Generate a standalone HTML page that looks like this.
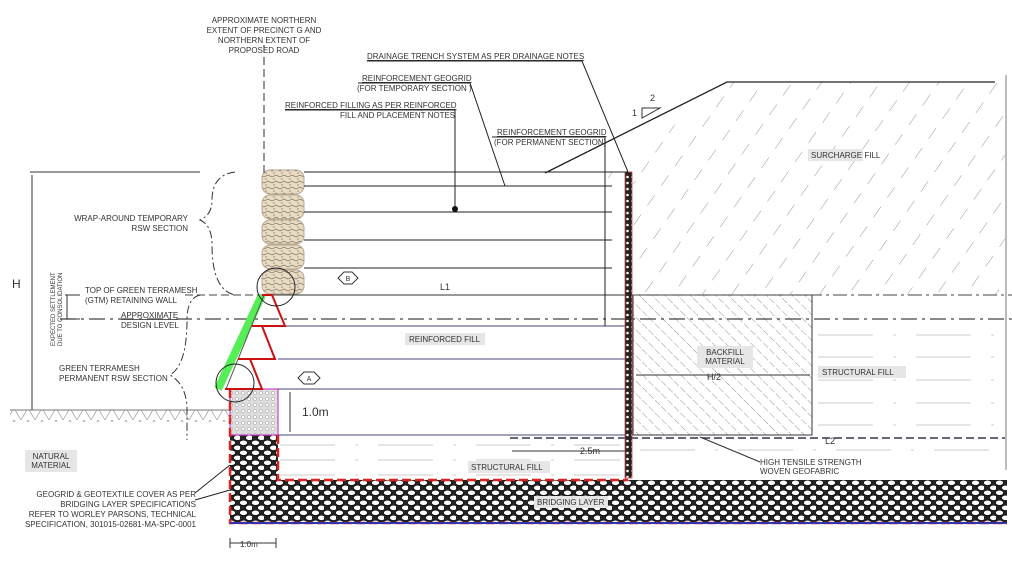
<!DOCTYPE html>
<html><head><style>body{margin:0;background:#fff}svg{display:block}text{font-family:"Liberation Sans",sans-serif;fill:#333}</style></head><body>
<svg width="1012" height="566" viewBox="0 0 1012 566" xmlns="http://www.w3.org/2000/svg">
<defs>
<pattern id="h1" width="24" height="24" patternUnits="userSpaceOnUse" patternTransform="rotate(35)"><line x1="0" y1="0" x2="0" y2="13" stroke="#888" stroke-width="0.9"/></pattern>
<pattern id="h2" width="9" height="9" patternUnits="userSpaceOnUse" patternTransform="rotate(-45)"><line x1="0" y1="0" x2="0" y2="9" stroke="#666" stroke-width="0.7" stroke-dasharray="6 2"/></pattern>
<pattern id="rock" width="12" height="10" patternUnits="userSpaceOnUse"><rect width="12" height="10" fill="#222"/><ellipse cx="3.5" cy="2.8" rx="4" ry="2.6" fill="#fff" stroke="#000" stroke-width="0.6"/><ellipse cx="9.5" cy="7.8" rx="4" ry="2.6" fill="#fff" stroke="#000" stroke-width="0.6"/></pattern>
<pattern id="pk" width="6" height="6" patternUnits="userSpaceOnUse"><rect width="6" height="6" fill="#ddd"/><circle cx="3" cy="3" r="1.6" fill="#fff" stroke="#999" stroke-width="0.5"/></pattern>
<pattern id="bag" width="8" height="6" patternUnits="userSpaceOnUse"><rect width="8" height="6" fill="#e8dcc4"/><path d="M0 3 L4 1 L8 3" stroke="#876" fill="none" stroke-width="0.7"/><circle cx="2" cy="5" r="0.8" fill="#987"/></pattern>
<pattern id="gr" width="14" height="12" patternUnits="userSpaceOnUse"><path d="M0 0 L7 12 L14 0" stroke="#999" fill="none" stroke-width="0.7"/></pattern>
<pattern id="dr" width="5" height="6" patternUnits="userSpaceOnUse"><rect width="5" height="6" fill="#222"/><circle cx="2.5" cy="3" r="1.3" fill="#fff"/></pattern>
</defs>
<polygon points="600,186 727,82 1005,82 1005,295 633,295 633,172 600,172" fill="url(#h1)"/>
<polyline points="545,173 727,82 995,82" fill="none" stroke="#222" stroke-width="1.3"/>
<line x1="1006" y1="75" x2="1006" y2="470" stroke="#555" stroke-width="0.8"/>
<path d="M642 118 L642 108 L660 108 Z" fill="none" stroke="#333"/>
<text x="632" y="116" font-size="9">1</text><text x="650" y="101" font-size="9">2</text>
<rect x="808" y="149" width="55" height="12" fill="#e6e6e6"/><text x="811" y="158" font-size="8">SURCHARGE FILL</text>
<rect x="633" y="295" width="179" height="140" fill="url(#h2)" stroke="#333" stroke-width="1"/>
<rect x="697" y="346" width="56" height="22" fill="#e6e6e6"/><text x="725" y="355" font-size="8" text-anchor="middle">BACKFILL</text><text x="725" y="364" font-size="8" text-anchor="middle">MATERIAL</text>
<line x1="636" y1="375" x2="810" y2="375" stroke="#333"/><text x="707" y="380" font-size="9">H/2</text>
<rect x="818" y="366" width="88" height="12" fill="#e6e6e6"/><text x="822" y="375" font-size="8">STRUCTURAL FILL</text>
<g stroke="#bbb" stroke-width="0.7" stroke-dasharray="55 20 3 20"><line x1="818" y1="335" x2="1005" y2="335"/><line x1="818" y1="357" x2="1005" y2="357"/><line x1="818" y1="380" x2="1005" y2="380"/><line x1="818" y1="403" x2="1005" y2="403"/><line x1="818" y1="425" x2="1005" y2="425"/><line x1="640" y1="450" x2="1005" y2="450"/><line x1="280" y1="445" x2="620" y2="445"/><line x1="280" y1="460" x2="620" y2="460"/><line x1="280" y1="475" x2="620" y2="475"/></g>
<line x1="633" y1="295" x2="1012" y2="295" stroke="#444" stroke-dasharray="14 4 3 4"/>
<line x1="60" y1="319" x2="1012" y2="319" stroke="#444" stroke-width="1.2" stroke-dasharray="16 5 3 5"/>
<line x1="185" y1="295" x2="262" y2="295" stroke="#444" stroke-dasharray="8 4"/>
<rect x="230" y="480" width="777" height="43" fill="url(#rock)"/>
<rect x="230" y="435" width="48" height="45" fill="url(#rock)"/>
<rect x="230" y="389" width="48" height="46" fill="url(#pk)" stroke="#c4c" stroke-width="1.2"/>
<path d="M230 389 V523 H1007 M278 435 V480 H628" fill="none" stroke="#d22" stroke-width="2.5" stroke-dasharray="9 4"/>
<line x1="230" y1="523" x2="1007" y2="523" stroke="#33a" stroke-width="2"/>
<rect x="468" y="461" width="82" height="12" fill="#e6e6e6"/><text x="471" y="470" font-size="8">STRUCTURAL FILL</text>
<rect x="534" y="496" width="74" height="12" fill="#e6e6e6"/><text x="537" y="505" font-size="8">BRIDGING LAYER</text>
<line x1="510" y1="438" x2="1005" y2="438" stroke="#335" stroke-width="1.5" stroke-dasharray="8 4"/>
<line x1="512" y1="451" x2="625" y2="451" stroke="#333"/><text x="580" y="454" font-size="9">2.5m</text>
<text x="825" y="444" font-size="9">L2</text>
<line x1="700" y1="437" x2="760" y2="462" stroke="#333"/>
<text x="760" y="465" font-size="8">HIGH TENSILE STRENGTH</text><text x="760" y="474" font-size="8">WOVEN GEOFABRIC</text>
<g stroke="#447" stroke-width="1"><line x1="278" y1="326" x2="628" y2="326"/><line x1="278" y1="359" x2="628" y2="359"/><line x1="278" y1="389" x2="628" y2="389"/><line x1="278" y1="435" x2="628" y2="435"/></g>
<line x1="262" y1="295" x2="628" y2="295" stroke="#333"/>
<text x="440" y="290" font-size="9">L1</text>
<rect x="405" y="333" width="80" height="12" fill="#e6e6e6"/><text x="409" y="342" font-size="8">REINFORCED FILL</text>
<line x1="290" y1="392" x2="290" y2="432" stroke="#333"/><text x="302" y="416" font-size="12">1.0m</text>
<rect x="625" y="172" width="7" height="306" fill="url(#dr)" stroke="#c44" stroke-width="0.8"/>
<g fill="url(#bag)" stroke="#b8a890" stroke-width="1"><rect x="262" y="170" width="42" height="24" rx="8"/><rect x="262" y="195" width="42" height="24" rx="8"/><rect x="262" y="220" width="42" height="24" rx="8"/><rect x="262" y="245" width="42" height="24" rx="8"/><rect x="262" y="270" width="42" height="24" rx="8"/></g>
<g stroke="#222" stroke-width="1.1"><line x1="304" y1="172" x2="628" y2="172"/><line x1="304" y1="186" x2="612" y2="186"/><line x1="304" y1="212" x2="612" y2="212"/><line x1="304" y1="240" x2="612" y2="240"/><line x1="304" y1="268" x2="612" y2="268"/></g>
<path d="M262 295 L218 389" stroke="#5e5" stroke-width="8"/>
<path d="M264 295 L226 389" stroke="#555" stroke-width="1"/>
<g fill="none" stroke="#c11" stroke-width="2"><path d="M262 295 L272 295 L285 326 L252 326"/><path d="M252 326 L262 326 L275 359 L238 359"/><path d="M238 359 L250 359 L262 389 L225 389"/></g>
<circle cx="276" cy="287" r="19" fill="none" stroke="#222"/><circle cx="235" cy="383" r="19" fill="none" stroke="#222"/>
<polygon points="338,278 344,272 352,272 358,278 352,284 344,284" fill="#fff" stroke="#333"/><text x="348" y="281" font-size="7" text-anchor="middle">B</text>
<polygon points="298,378 304,372 314,372 320,378 314,384 304,384" fill="#fff" stroke="#333"/><text x="309" y="381" font-size="7" text-anchor="middle">A</text>
<rect x="10" y="410" width="220" height="12" fill="url(#gr)"/><line x1="10" y1="410" x2="230" y2="410" stroke="#777"/>
<rect x="25" y="450" width="52" height="22" fill="#e6e6e6"/><text x="51" y="459" font-size="8" text-anchor="middle">NATURAL</text><text x="51" y="468" font-size="8" text-anchor="middle">MATERIAL</text>
<line x1="30" y1="172" x2="200" y2="172" stroke="#333"/><line x1="32" y1="175" x2="32" y2="410" stroke="#333"/>
<text x="12" y="288" font-size="12">H</text>
<line x1="65" y1="295" x2="80" y2="295" stroke="#333"/><line x1="65" y1="319" x2="80" y2="319" stroke="#333"/><line x1="67" y1="295" x2="67" y2="319" stroke="#333"/>
<text transform="translate(55,346) rotate(-90)" font-size="6" fill="#2a2">EXPECTED SETTLEMENT</text>
<text transform="translate(62,346) rotate(-90)" font-size="6" fill="#2a2">DUE TO CONSOLIDATION</text>
<path d="M235 172 Q212 175 212 200 Q212 215 200 220 Q212 225 212 245 Q212 290 235 295" fill="none" stroke="#333" stroke-dasharray="8 3 2 3"/>
<path d="M200 295 Q187 298 187 320 Q187 365 170 375 Q187 385 187 410 V440" fill="none" stroke="#333" stroke-dasharray="8 3 2 3"/>
<line x1="264" y1="45" x2="264" y2="175" stroke="#333" stroke-dasharray="8 4"/>
<g font-size="8"><text x="264" y="23" text-anchor="middle">APPROXIMATE NORTHERN</text><text x="264" y="33" text-anchor="middle">EXTENT OF PRECINCT G  AND</text><text x="264" y="43" text-anchor="middle">NORTHERN EXTENT OF</text><text x="264" y="53" text-anchor="middle">PROPOSED ROAD</text>
<text x="367" y="59" text-decoration="underline">DRAINAGE TRENCH SYSTEM AS PER DRAINAGE NOTES</text>
<text x="362" y="81" text-decoration="underline">REINFORCEMENT GEOGRID</text><text x="357" y="91">(FOR TEMPORARY SECTION )</text>
<text x="285" y="108" text-decoration="underline">REINFORCED FILLING AS PER REINFORCED</text><text x="340" y="118">FILL AND PLACEMENT NOTES</text>
<text x="497" y="135" text-decoration="underline">REINFORCEMENT GEOGRID</text><text x="494" y="145">(FOR PERMANENT SECTION)</text>
<text x="188" y="221" text-anchor="end">WRAP-AROUND TEMPORARY</text><text x="188" y="231" text-anchor="end">RSW SECTION</text>
<text x="85" y="293">TOP OF GREEN TERRAMESH</text><text x="85" y="303">(GTM) RETAINING WALL</text>
<text x="121" y="318" text-decoration="underline">APPROXIMATE</text><text x="121" y="328">DESIGN LEVEL</text>
<text x="59" y="371">GREEN TERRAMESH</text><text x="59" y="381">PERMANENT RSW SECTION</text>
<text x="196" y="497" text-anchor="end">GEOGRID &amp; GEOTEXTILE COVER AS PER</text><text x="196" y="507" text-anchor="end">BRIDGING LAYER SPECIFICATIONS</text><text x="196" y="517" text-anchor="end">REFER TO WORLEY PARSONS, TECHNICAL</text><text x="196" y="527" text-anchor="end">SPECIFICATION, 301015-02681-MA-SPC-0001</text>
<text x="240" y="547">1.0m</text></g>
<line x1="230" y1="543" x2="276" y2="543" stroke="#333"/><line x1="230" y1="538" x2="230" y2="548" stroke="#333"/><line x1="276" y1="538" x2="276" y2="548" stroke="#333"/>
<g stroke="#222" fill="none"><polyline points="367,61 582,61 628,172"/><polyline points="358,83 470,83 505,186"/><polyline points="285,110 455,110 455,208"/><polyline points="492,137 605,137 605,326"/><polyline points="195,493 230,465"/><polyline points="195,500 230,490"/></g>
<circle cx="455" cy="209" r="3" fill="#111"/>
</svg>
</body></html>
